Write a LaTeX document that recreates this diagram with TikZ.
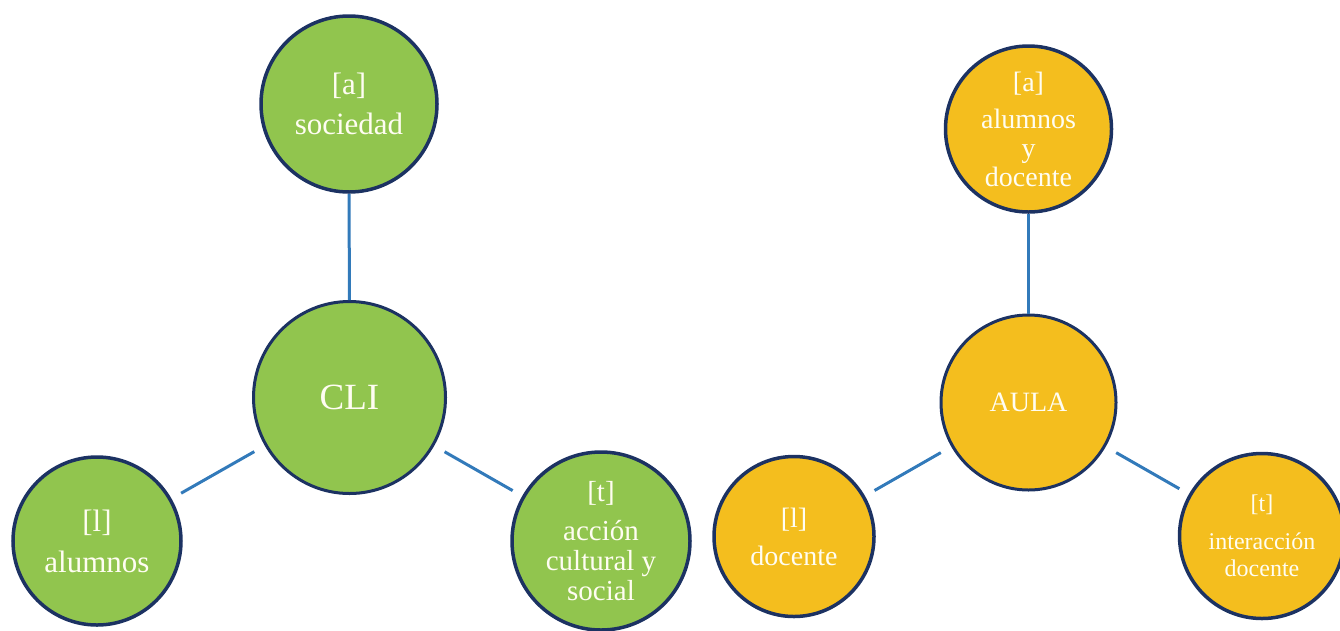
\documentclass[tikz,border=0pt]{standalone}
\usepackage{fontspec}
\setmainfont{Liberation Serif}
\definecolor{grn}{RGB}{145,197,78}
\definecolor{ylw}{RGB}{244,190,30}
\definecolor{navy}{RGB}{28,50,98}
\definecolor{conncol}{RGB}{50,122,186}
\definecolor{txt}{RGB}{255,253,242}
\tikzset{
  bubble/.style={circle, draw=navy, line width=3.5pt, inner sep=0pt, align=center,
    text=txt, font=\fontsize{31}{31}\selectfont},
  greenb/.style={bubble, fill=grn},
  yellowb/.style={bubble, fill=ylw},
  conn/.style={draw=conncol, line width=3pt},
  diag/.style={conn, shorten <=12pt, shorten >=11pt}
}
\begin{document}
\begin{tikzpicture}[x=1pt,y=-1pt]
\useasboundingbox (0,0) rectangle (1340,630);
% left diagram
\node[greenb, minimum size=176pt] (soc) at (349,104) {[a]\\[9pt]sociedad};
\node[greenb, minimum size=192pt, line width=3pt, font=\fontsize{37}{38}\selectfont] (cli) at (349.5,397.5) {CLI};
\node[greenb, minimum size=168pt] (alu) at (97,541) {[l]\\[10pt]alumnos};
\node[greenb, minimum size=178pt, font=\fontsize{29}{30}\selectfont] (acc) at (601,541) {[t]\\[9pt]acción\\cultural y\\social};
\draw[conn] (soc) -- (cli);
\draw[diag] (cli) -- (alu);
\draw[diag] (cli) -- (acc);
% right diagram
\node[yellowb, minimum size=166pt, font=\fontsize{28}{29}\selectfont] (ayd) at (1028.5,129) {[a]\\[8pt]alumnos\\y\\docente};
\node[yellowb, minimum size=175pt, line width=3pt, font=\fontsize{28}{30}\selectfont] (aula) at (1028.5,402.5) {AULA};
\node[yellowb, minimum size=160pt, font=\fontsize{28}{29}\selectfont] (doc) at (794,536.5) {[l]\\[9pt]docente};
\node[yellowb, minimum size=165pt, font=\fontsize{24}{27}\selectfont] (int) at (1262,536) {[t]\\[11pt]interacción\\docente};
\draw[conn] (ayd) -- (aula);
\draw[diag] (aula) -- (doc);
\draw[diag] (aula) -- (int);
\end{tikzpicture}
\end{document}
